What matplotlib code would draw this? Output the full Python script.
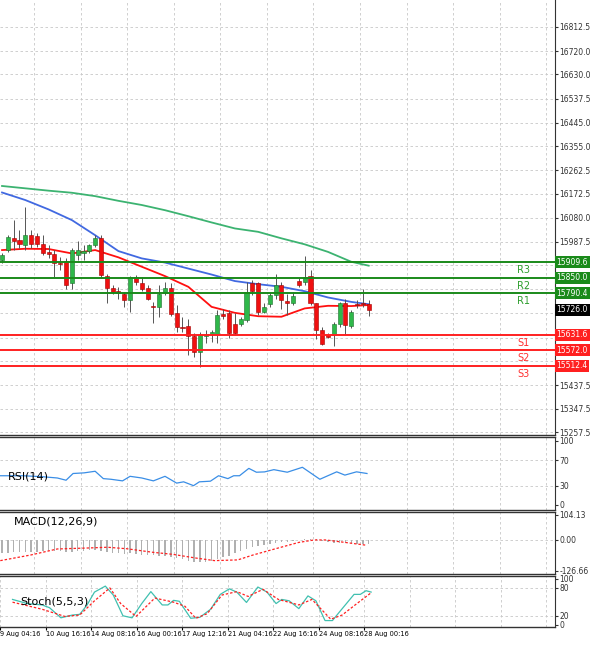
import matplotlib
matplotlib.use("Agg")
import matplotlib.pyplot as plt
import numpy as np

opens = [15917,15956,16003,15994,15975,16013,16010,15981,15949,15940,15907,15915,15828,15937,15943,15952,15975,16001,15856,15809,15800,15789,15764,15851,15830,15809,15741,15738,15792,15809,15713,15661,15664,15627,15565,15626,15633,15633,15710,15715,15674,15674,15687,15828,15828,15719,15748,15783,15821,15761,15754,15838,15834,15856,15751,15651,15629,15629,15672,15754,15664,15748,15751,15748]
closes = [15937,16007,15990,15979,16013,15981,15979,15943,15940,15907,15902,15821,15956,15958,15952,15975,16001,15860,15809,15796,15792,15764,15851,15834,15805,15770,15736,15789,15809,15710,15659,15655,15627,15565,15629,15633,15642,15706,15704,15636,15636,15693,15796,15800,15719,15738,15783,15821,15764,15751,15779,15821,15853,15751,15651,15597,15623,15674,15751,15668,15719,15745,15748,15725]
highs = [15946,16013,16071,16033,16122,16033,16020,16013,15975,15956,15930,15924,15962,15992,15975,15979,16013,16013,15866,15821,15815,15796,15856,15860,15853,15821,15757,15821,15834,15828,15745,15700,15693,15636,15642,15649,15649,15725,15728,15725,15713,15700,15834,15841,15834,15751,15792,15864,15834,15789,15796,15847,15933,15879,15754,15661,15636,15681,15757,15770,15725,15764,15805,15766]
lows = [15905,15949,15956,15962,15956,15962,15969,15937,15924,15853,15879,15805,15805,15917,15917,15943,15969,15847,15751,15789,15770,15738,15719,15821,15800,15764,15677,15700,15783,15702,15642,15642,15553,15546,15508,15600,15604,15600,15693,15617,15629,15664,15681,15783,15706,15713,15738,15770,15728,15706,15745,15815,15821,15745,15613,15591,15617,15587,15661,15629,15655,15732,15736,15702]

ma_idx = [0,4,8,12,16,20,24,28,32,36,40,44,48,52,56,60,63]
ma_fast = [15956,15961,15960,15943,15956,15928,15892,15856,15815,15738,15715,15702,15700,15732,15742,15741,15745]
ma_mid = [16177,16148,16112,16071,16013,15952,15924,15908,15885,15862,15837,15825,15815,15798,15774,15757,15748]
ma_slow = [16202,16193,16184,16176,16163,16145,16129,16109,16086,16062,16039,16026,16001,15978,15949,15911,15896]

res_levels = [15909.6, 15850.0, 15790.4]
res_names = ["R3", "R2", "R1"]
sup_levels = [15631.6, 15572.0, 15512.4]
sup_names = ["S1", "S2", "S3"]
last_price = 15726.0

price_ticks = [16812.5,16720.0,16630.0,16537.5,16445.0,16355.0,16262.5,16172.5,16080.0,15987.5,15437.5,15347.5,15257.5]
grid_ticks = [16812.5,16720.0,16630.0,16537.5,16445.0,16355.0,16262.5,16172.5,16080.0,15987.5,15897.5,15805.0,15712.5,15620.0,15530.0,15437.5,15347.5,15257.5]

rsi_idx = [-0.3,3.6,6.9,9.5,11,12.2,14.1,16,17.4,18.7,20.7,22,24,26,28,30,31.2,32.9,33.9,35.8,37.2,38.8,39.8,40.8,42.4,43.7,45.1,46.7,49,51.6,54.6,57.5,58.9,60.9,62.7]
rsi_val = [45.5,45.5,44,42,38.5,49,50,52.5,41,40,37.5,44.6,42,37.5,44.6,34,36,30,36,37,45.5,41,45.5,45.5,57,51,51.5,55,51,58.7,40,51.6,46.5,51.6,49]

macd_hist = [-55,-52,-50,-50,-50,-48,-48,-47,-45,-45,-47,-50,-48,-45,-45,-43,-42,-45,-50,-52,-55,-56,-55,-57,-60,-62,-62,-65,-68,-70,-75,-80,-85,-90,-92,-90,-88,-80,-72,-65,-55,-45,-38,-30,-25,-20,-15,-12,-10,-8,-5,-2,3,5,2,-5,-10,-12,-14,-12,-14,-15,-16,-18]
macd_sig_idx = [-0.3,4.9,9.5,14.8,18.1,21.4,26,29.3,33.2,36.5,40.5,43.1,47,51,53.6,55.6,58.9,62.7]
macd_sig = [-85,-62,-37,-33,-30,-36,-51,-59,-74,-85,-82,-62,-36,-10,0,0,-10,-22]

st_idx = [-0.3,2.3,4.9,6.2,8.2,10.2,11.5,12.8,14.1,16,17.4,19.1,20.7,22.4,24,26,27,28,29,31,32.6,34.5,36.2,37.8,39.1,40.8,42.8,44.4,46,47,48.3,50,51.6,53,54.6,55.9,57.2,59.7,60.8,61.8,62.7]
st_main = [55,46,43,37,15,21,22.5,43,71,84,64.6,19.4,15,46,72,43,43,53,51,14,16,33.6,66,78,71,48.5,82,71,46,55,52,35,62.7,52,9,9,28.7,66,66,74,71]
sig_idx = [-0.3,4.9,8.9,11.5,14.1,16.8,18.7,21.4,24.7,28,30,31.9,33.9,36.5,39.1,41.1,43.7,46.4,50,52.3,55.6,57.6,60.2,62.7]
st_sig = [49,33.6,18,21,52,80,46,18,58,49,40,14,24,64.6,72,61.5,77,55,43,55,12,21,46,69.5]

date_ticks = [-2.5,5.5,13.5,21.5,29.5,37.5,45.5,53.5,61.5]
date_labels = ["9 Aug 04:16","10 Aug 16:16","14 Aug 08:16","16 Aug 00:16","17 Aug 12:16","21 Aug 04:16","22 Aug 16:16","24 Aug 08:16","28 Aug 00:16"]
grid_x = [-2.5,5.5,13.5,21.5,29.5,37.5,45.5,53.5,61.5,69.5,77.5,85.5,93.5]

W, H = 600, 646
fig = plt.figure(figsize=(6, 6.46), dpi=100)
XL = (-0.35, 95.0)
axw = 555 / W

def mk(top, bot):
    return fig.add_axes([0, 1 - bot / H, axw, (bot - top) / H])

ax = mk(0, 435)
ax_rsi = mk(437, 510)
ax_macd = mk(512, 574)
ax_st = mk(576, 627)

gcol = "#c8c8c8"
for a in (ax, ax_rsi, ax_macd, ax_st):
    a.set_xlim(*XL)
    for gx in grid_x:
        a.axvline(gx, color=gcol, lw=0.6, ls=(0, (3, 3)), zorder=0)
    a.yaxis.tick_right()
    a.tick_params(axis="y", labelsize=5.5, length=2, pad=1, colors="#333333")
    a.set_xticks([])
    for s in a.spines.values():
        s.set_color("#333333")
        s.set_linewidth(1.0)
    a.spines["left"].set_visible(False)
    a.spines["top"].set_visible(True)
    a.spines["right"].set_linewidth(0.8)

ax.spines["top"].set_visible(False)
ax.set_ylim(15246, 16916)
for gy in grid_ticks:
    ax.axhline(gy, color=gcol, lw=0.6, ls=(0, (3, 3)), zorder=0)
ax.set_yticks(price_ticks)
ax.set_yticklabels([f"{v:.1f}" for v in price_ticks])

ax.plot(ma_idx, ma_slow, color="#3cb371", lw=1.3, zorder=2)
ax.plot(ma_idx, ma_mid, color="#4169e1", lw=1.3, zorder=2)
ax.plot(ma_idx, ma_fast, color="#ff1010", lw=1.3, zorder=2)

for i, (o, c, h, l) in enumerate(zip(opens, closes, highs, lows)):
    up = c >= o
    ax.vlines(i, l, h, color="#555555", lw=0.7, zorder=3)
    ax.bar(i, abs(c - o) if abs(c - o) > 1 else 2, bottom=min(o, c), width=0.7,
           color="#2fb84a" if up else "#f01010", edgecolor="#1a6e2a" if up else "#a00000",
           lw=0.4, zorder=4)

tr = ax.get_yaxis_transform()
for lv, nm in zip(res_levels, res_names):
    ax.axhline(lv, color="#1a8a1a", lw=1.4, zorder=5)
    ax.text(88.5, lv - 12, nm, color="#2e9e2e", fontsize=7, va="top", ha="left")
    ax.text(1.003, lv, f"{lv:.1f}", transform=tr, fontsize=5.5, color="white", va="center", ha="left",
            bbox=dict(boxstyle="square,pad=0.2", fc="#1a8a1a", ec="none"), clip_on=False, zorder=10)
for lv, nm in zip(sup_levels, sup_names):
    ax.axhline(lv, color="#ff2020", lw=1.4, zorder=5)
    ax.text(88.5, lv - 12, nm, color="#ff3030", fontsize=7, va="top", ha="left")
    ax.text(1.003, lv, f"{lv:.1f}", transform=tr, fontsize=5.5, color="white", va="center", ha="left",
            bbox=dict(boxstyle="square,pad=0.2", fc="#ff2020", ec="none"), clip_on=False, zorder=10)
ax.text(1.003, last_price, f"{last_price:.1f}", transform=tr, fontsize=5.5, color="white", va="center", ha="left",
        bbox=dict(boxstyle="square,pad=0.2", fc="black", ec="none"), clip_on=False, zorder=10)

ax_rsi.set_ylim(-8, 106)
ax_rsi.set_yticks([100, 70, 30, 0])
for gy in (70, 30):
    ax_rsi.axhline(gy, color=gcol, lw=0.6, ls=(0, (3, 3)), zorder=0)
ax_rsi.plot(rsi_idx, rsi_val, color="#3a8ee6", lw=0.9)
ax_rsi.text(1.0, 45, "RSI(14)", fontsize=8, va="center")

ax_macd.set_ylim(-140, 115)
ax_macd.set_yticks([104.13, 0.0, -126.66])
ax_macd.set_yticklabels(["104.13", "0.00", "-126.66"])
ax_macd.axhline(0, color=gcol, lw=0.6, ls=(0, (3, 3)), zorder=0)
ax_macd.bar(np.arange(len(macd_hist)), macd_hist, width=0.25, color="#b0b0b0")
ax_macd.plot(macd_sig_idx, macd_sig, color="#ff2020", lw=0.9, ls=(0, (2, 1.5)))
ax_macd.text(2.0, 75, "MACD(12,26,9)", fontsize=8, va="center")

ax_st.set_ylim(-5, 106)
ax_st.set_yticks([100, 80, 20, 0])
for gy in (80, 20):
    ax_st.axhline(gy, color=gcol, lw=0.6, ls=(0, (3, 3)), zorder=0)
ax_st.plot(st_idx, st_main, color="#40c0b0", lw=0.9)
ax_st.plot(sig_idx, st_sig, color="#ff2020", lw=0.9, ls=(0, (2, 1.5)))
ax_st.text(1.0, 50, "Stoch(5,5,3)", fontsize=8, va="center")
ax_st.set_xticks(date_ticks)
ax_st.set_xticklabels(date_labels, fontsize=4.8, ha="left")
ax_st.tick_params(axis="x", length=2, pad=1)

fig.savefig("out.png", dpi=100)
